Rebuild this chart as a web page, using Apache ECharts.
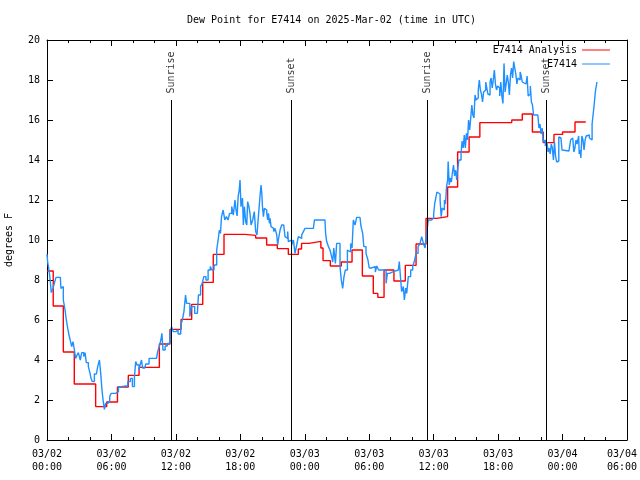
<!DOCTYPE html>
<html><head><meta charset="utf-8">
<script src="https://cdn.jsdelivr.net/npm/echarts@6/dist/echarts.min.js"></script>
<style>html,body{margin:0;padding:0;background:#fff}#c{width:640px;height:480px}</style>
</head><body><div id="c"></div>
<script>
const titleText = 'Dew Point for E7414 on 2025-Mar-02 (time in UTC)';
const xTickLabels = ['03/02\n00:00','03/02\n06:00','03/02\n12:00','03/02\n18:00','03/03\n00:00','03/03\n06:00','03/03\n12:00','03/03\n18:00','03/04\n00:00','03/04\n06:00'];
// hours since 03/02 00:00 UTC
const anaTimes = [0,0.58,1.52,2.54,4.53,5.56,6.56,7.57,8.57,10.46,11.45,12.48,13.47,14.5,15.48,16.48,18.43,19.43,20.45,21.44,22.47,23.4,23.7,24.4,25.5,25.7,26.38,27.4,28.4,29.36,30.38,30.8,31.38,32.3,33.36,34.36,35.29,36.28,37.3,38.23,39.3,40.3,43.27,44.25,45.19,46.2,47.2,48.0,49.16,50.16];
const anaValues = [8.45,6.7,4.4,2.8,1.67,1.9,2.65,3.23,3.63,4.8,5.53,6.03,6.78,7.88,9.28,10.28,10.23,10.1,9.75,9.57,9.28,9.55,9.83,9.93,9.6,8.97,8.7,8.9,9.5,8.2,7.33,7.13,8.5,7.95,8.73,9.8,11.08,11.17,12.65,14.4,15.15,15.87,16.0,16.3,15.4,14.87,15.28,15.4,15.9,15.9];
const obsTimes = [0.00,0.06,0.19,0.31,0.40,0.56,0.68,0.84,1.24,1.30,1.43,1.52,1.68,1.80,1.93,2.05,2.17,2.30,2.42,2.55,2.67,2.80,2.92,3.10,3.23,3.42,3.54,3.66,3.85,3.97,4.10,4.22,4.41,4.60,4.72,4.88,5.00,5.12,5.22,5.34,5.46,5.65,5.84,5.96,6.21,6.40,6.65,6.90,7.33,7.52,7.76,7.95,8.14,8.26,8.38,8.57,8.66,8.80,8.90,9.10,9.20,9.50,10.20,10.30,10.45,10.60,10.70,10.80,11.00,11.20,11.45,11.60,11.75,12.00,12.20,12.45,12.60,12.75,12.90,13.00,13.15,13.30,13.45,13.60,13.75,14.00,14.10,14.30,14.45,14.60,14.80,15.00,15.20,15.35,15.55,15.80,15.95,16.05,16.15,16.25,16.40,16.55,16.70,16.85,17.00,17.20,17.35,17.50,17.60,17.70,17.80,17.90,17.97,18.06,18.20,18.28,18.38,18.50,18.60,18.68,18.80,18.90,19.00,19.15,19.30,19.43,19.55,19.68,19.84,19.93,20.00,20.06,20.15,20.24,20.37,20.46,20.55,20.62,20.71,20.77,20.86,20.99,21.10,21.23,21.39,21.48,21.54,21.70,21.85,22.04,22.16,22.32,22.41,22.47,22.63,22.78,22.94,23.09,23.25,23.40,23.56,23.71,23.87,24.02,24.80,24.90,25.88,25.94,26.04,26.20,26.35,26.50,26.60,26.70,26.85,26.97,27.15,27.28,27.40,27.53,27.65,27.78,27.97,28.15,28.27,28.40,28.52,28.68,28.83,29.14,29.23,29.39,29.50,29.70,29.88,30.00,30.20,30.38,30.57,30.70,30.88,31.32,31.57,31.69,31.88,32.25,32.71,32.80,32.93,33.02,33.18,33.27,33.40,33.49,33.64,33.86,34.05,34.23,34.36,34.55,34.73,34.89,35.04,35.20,35.35,35.50,35.80,36.00,36.10,36.20,36.30,36.45,36.60,36.70,36.80,36.90,37.00,37.10,37.20,37.30,37.35,37.45,37.55,37.65,37.75,37.85,37.95,38.05,38.15,38.25,38.35,38.45,38.55,38.65,38.75,38.85,38.95,39.05,39.15,39.25,39.35,39.45,39.55,39.65,39.75,39.85,39.95,40.05,40.15,40.25,40.35,40.45,40.55,40.65,40.75,40.85,40.95,41.05,41.15,41.25,41.35,41.45,41.55,41.65,41.75,41.85,41.95,42.05,42.15,42.25,42.35,42.45,42.55,42.65,42.75,42.85,42.95,43.05,43.15,43.25,43.35,43.45,43.55,43.65,43.75,43.85,43.95,44.05,44.15,44.25,44.40,44.60,44.70,44.80,44.90,45.00,45.10,45.20,45.30,45.70,45.80,45.90,46.00,46.10,46.20,46.30,46.40,46.55,46.65,46.75,46.85,46.95,47.05,47.15,47.25,47.35,47.45,47.55,47.65,47.75,47.85,47.95,48.10,48.60,48.75,48.85,48.95,49.05,49.15,49.25,49.35,49.45,49.50,49.55,49.65,49.70,49.80,49.90,50.00,50.10,50.20,50.35,50.50,50.60,50.75,50.85,50.95,51.05,51.20];
const obsValues = [9.3,8.9,8.5,7.9,7.37,7.58,7.83,8.13,8.13,7.58,7.67,7.0,6.5,6.0,5.58,5.25,4.97,4.67,4.92,4.5,4.08,4.25,4.37,4.0,4.37,4.17,4.37,3.87,3.67,3.42,3.08,2.92,3.3,3.3,3.67,4.0,3.33,2.5,2.0,1.53,1.83,1.92,2.17,2.33,2.33,2.42,2.67,2.7,2.7,2.92,3.08,2.67,3.17,3.92,3.75,3.5,3.75,4.0,3.6,3.67,3.8,4.08,4.08,4.42,4.67,5.0,5.33,4.5,4.7,4.83,5.33,5.67,5.42,5.5,5.3,5.75,6.0,6.42,7.25,6.83,6.83,6.17,6.67,6.67,6.33,6.33,7.25,7.67,7.83,8.17,8.0,8.5,8.67,8.5,8.75,9.5,10.08,10.5,10.33,11.17,11.5,11.0,11.17,11.0,11.33,11.67,11.25,12.0,11.5,11.2,12.2,12.5,13.0,11.67,12.1,10.75,11.67,10.9,10.75,11.92,11.67,11.33,10.75,11.0,11.42,10.42,10.25,11.17,12.25,12.75,12.33,11.67,11.17,11.58,11.5,11.33,11.0,11.33,10.83,11.08,10.67,10.58,10.42,10.58,10.25,9.75,10.0,10.5,10.75,10.75,10.17,10.08,10.42,9.92,10.0,9.75,10.0,9.33,9.75,10.17,10.08,10.25,10.42,10.58,10.58,11.0,11.0,10.33,9.92,9.67,9.5,9.17,8.9,9.6,8.83,9.83,9.83,8.67,8.0,7.58,8.17,8.5,9.5,9.4,9.83,9.6,11.0,10.75,11.13,11.13,10.7,10.33,9.67,9.33,9.0,8.6,8.67,8.67,8.4,8.7,8.5,8.5,7.83,8.33,8.42,8.5,8.5,8.92,8.0,7.42,7.67,7.0,7.6,7.33,8.17,8.5,8.67,9.0,9.33,9.67,9.83,10.17,9.83,9.6,10.33,11.0,11.1,11.3,11.83,12.1,12.4,12.3,12.0,11.17,11.6,11.5,12.0,11.8,12.67,13.0,13.92,12.75,13.1,12.9,13.4,13.75,13.2,13.5,13.0,13.6,14.0,14.0,14.33,14.95,14.6,15.25,14.6,15.33,15.0,16.0,15.5,16.1,16.75,16.25,16.1,17.25,17.0,17.1,17.5,18.0,17.5,17.3,16.9,17.4,17.5,17.9,17.6,17.3,17.25,17.9,18.1,17.6,18.0,18.5,17.8,17.5,17.7,17.6,17.2,17.9,17.2,16.83,18.83,17.4,17.8,18.25,17.9,17.25,18.25,18.6,18.1,18.92,18.6,18.3,17.8,18.1,18.0,18.4,18.2,17.9,17.8,17.8,18.2,17.2,17.3,17.7,16.9,16.75,16.25,16.25,15.6,15.8,15.3,15.6,14.9,15.0,14.7,14.9,14.4,14.6,14.3,14.8,14.6,14.0,14.9,14.2,13.9,13.95,15.15,15.1,15.2,14.5,14.45,14.45,15.0,15.1,15.15,14.4,14.6,15.0,14.8,14.7,15.2,14.3,14.5,14.1,15.2,15.0,14.5,15.0,15.2,15.25,15.1,15.0,15.8,16.3,16.8,17.4,17.9];
const sunTimes = [11.57, 22.76, 35.43, 46.48];
const sunLabels = ['Sunrise', 'Sunset', 'Sunrise', 'Sunset'];
const sunLineTop = 17;

const FONT = 'DejaVu Sans Mono';
const zip = (a, b) => a.map((t, i) => [t, b[i]]);

const chart = echarts.init(document.getElementById('c'), null, {renderer: 'canvas'});
const axisCommon = {
  axisLine: {show: true, onZero: false, lineStyle: {color: '#000', width: 1}},
  splitLine: {show: false}
};
function xLabel(v) {
  const i = Math.round(v / 6);
  const s = xTickLabels[i] || '';
  if (i === xTickLabels.length - 1) {
    return s.split('\n').map(l => '{last|' + l + '}').join('\n');
  }
  return s;
}
chart.setOption({
  animation: false,
  backgroundColor: '#fff',
  title: {text: titleText, left: 187, top: 15, padding: 0,
    textStyle: {fontFamily: FONT, fontSize: 10, fontWeight: 'normal', color: '#000'}},
  grid: {left: 47, right: 13, top: 40, bottom: 40, containLabel: false, outerBoundsMode: 'none'},
  legend: [
    {data: ['E7414 Analysis'], right: 30, top: 45, orient: 'vertical', align: 'right', icon: 'rect',
     itemWidth: 28, itemHeight: 1, padding: 0, selectedMode: false,
     textStyle: {fontFamily: FONT, fontSize: 10, color: '#000'}},
    {data: ['E7414'], right: 30, top: 59, orient: 'vertical', align: 'right', icon: 'rect',
     itemWidth: 28, itemHeight: 1, padding: 0, selectedMode: false,
     textStyle: {fontFamily: FONT, fontSize: 10, color: '#000'}}
  ],
  xAxis: [
    Object.assign({}, axisCommon, {type: 'value', position: 'bottom', min: 0, max: 54, interval: 6,
      axisTick: {show: true, inside: true, length: 6, lineStyle: {color: '#000'}},
      minorTick: {show: true, splitNumber: 3, length: 3, lineStyle: {color: '#000'}},
      axisLabel: {formatter: xLabel, fontFamily: FONT, fontSize: 10,
        color: '#000', margin: 8, lineHeight: 13,
        rich: {last: {fontFamily: FONT, fontSize: 10, color: '#000', lineHeight: 13, padding: [0, 10, 0, 0]}}}}),
    Object.assign({}, axisCommon, {type: 'value', position: 'top', min: 0, max: 54, interval: 6,
      axisTick: {show: true, inside: true, length: 6, lineStyle: {color: '#000'}},
      minorTick: {show: true, splitNumber: 3, length: 3, lineStyle: {color: '#000'}},
      axisLabel: {show: false}})
  ],
  yAxis: [
    Object.assign({}, axisCommon, {type: 'value', position: 'left', min: 0, max: 20, interval: 2,
      axisTick: {show: true, inside: true, length: 6, lineStyle: {color: '#000'}},
      axisLabel: {fontFamily: FONT, fontSize: 10, color: '#000', margin: 7},
      name: 'degrees F', nameLocation: 'middle', nameRotate: 90, nameGap: 33,
      nameTextStyle: {fontFamily: FONT, fontSize: 10, color: '#000'}}),
    Object.assign({}, axisCommon, {type: 'value', position: 'right', min: 0, max: 20, interval: 2,
      axisTick: {show: true, inside: true, length: 6, lineStyle: {color: '#000'}},
      axisLabel: {show: false}})
  ],
  series: [
    {name: 'Sun', type: 'line', data: [], silent: true,
     markLine: {silent: true, symbol: 'none', label: {show: false},
       lineStyle: {color: '#000', width: 1, type: 'solid'},
       data: sunTimes.map(t => [{coord: [t, 0]}, {coord: [t, sunLineTop]}])}},
    {name: 'SunLabel', type: 'scatter', symbolSize: 1, itemStyle: {color: 'rgba(0,0,0,0)'}, silent: true,
     data: sunTimes.map(t => [t, sunLineTop]),
     label: {show: true, formatter: p => sunLabels[p.dataIndex], position: 'top', distance: 6,
       rotate: 90, align: 'left', verticalAlign: 'middle', fontFamily: FONT, fontSize: 10, color: '#000'}},
    {name: 'E7414 Analysis', type: 'line', step: 'end', data: zip(anaTimes, anaValues),
     showSymbol: false, symbol: 'none', color: '#ff0000', lineStyle: {color: '#ff0000', width: 1.4}},
    {name: 'E7414', type: 'line', step: 'end', data: zip(obsTimes, obsValues),
     showSymbol: false, symbol: 'none', color: '#1e90ff', lineStyle: {color: '#1e90ff', width: 1.4}}
  ]
});
</script>
</body></html>
